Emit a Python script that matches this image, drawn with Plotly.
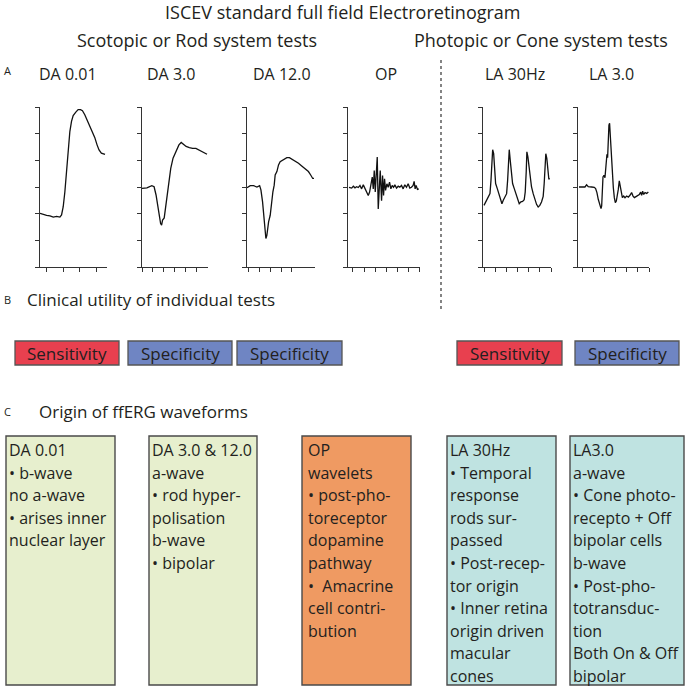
import plotly.graph_objects as go

W, H = 685, 686

# ---------------- data ----------------
panel_titles = ["DA 0.01", "DA 3.0", "DA 12.0", "OP", "LA 30Hz", "LA 3.0"]

da001_t = [-8, -4, 0, 4, 8, 12, 16, 18, 20, 22, 24, 26, 28, 30, 32, 35.2, 38, 40.8, 43.2,
           46, 48.8, 52, 55.2, 58, 60.8, 63.2, 66, 68.8, 70.4]
da001_v = [-99, -103, -106, -108, -113, -110, -113, -105, -74, -18, 70, 158, 208, 246, 268,
           281, 290, 290, 286, 271, 252, 233, 208, 186, 158, 139, 127, 123, 122]

da3_t = [0, 4.5, 9, 11.1, 12.9, 14.4, 15.9, 17.1, 18, 18.9, 20.4, 21.6, 23.4, 24.9, 26.4,
         28.5, 30.9, 33.9, 36, 38.1, 40.5, 43.5, 46.5, 49.5, 52.5, 55.5, 58.5, 59.7]
da3_v = [-5, -3, 5, 1, -30, -68, -112, -137, -143, -124, -116, -80, -30, 20, 70, 108, 133,
         158, 167, 160, 152, 148, 145, 145, 139, 130, 124, 123]

da12_t = [-1.5, 1.5, 4.6, 7.7, 10.2, 11.4, 12.9, 14.2, 15.1, 16, 16.9, 18.5, 20, 21.2, 22.5,
          23.7, 24.6, 26.2, 27.7, 29.2, 32.3, 35.4, 37.8, 40, 43.1, 46.2, 49.2, 52.3, 55.4,
          57.5, 59.4, 60.6]
da12_v = [-3, 5, 5, 0, 5, -11, -55, -118, -168, -193, -181, -131, -106, -55, -18, 7, 45, 58,
          83, 95, 102, 110, 110, 105, 98, 89, 79, 68, 58, 45, 32, 32]

op_t = [-3.6, -1.2, 0.3, 1.8, 3.3, 4.8, 6.3, 7.8, 9.3, 10.8, 12.3, 13.8, 15.0, 16.2, 17.4,
        18.3, 19.2, 20.1, 21.0, 21.9, 22.8, 23.7, 24.6, 25.8, 26.7, 27.6, 28.5, 29.4, 30.6,
        31.8, 33.0, 34.2, 35.4, 36.6, 37.8, 39.3, 40.8, 42.3, 43.8, 45.3, 46.8, 48.3, 49.8,
        51.3, 52.8, 54.3, 55.2, 56.1, 57.0, 58.2, 59.4]
op_v = [-1, -4, 3, -3, 1, -2, 6, -7, 8, -4, -19, -32, -19, 12, 37, -7, 62, -19, 81, 112,
        -82, 31, 62, -51, 43, -32, 31, -13, 12, -1, 18, -7, 6, -1, 8, -4, 3, -1, 6, -7, 8,
        -1, 12, -4, -1, 6, 21, -7, 6, -9, -7]

la30_t = [0, 2.4, 4.8, 7.7, 10.7, 12.5, 14.3, 15.5, 17.3, 19.0, 20.8, 23.8, 26.8, 29.8,
          32.1, 34.5, 37.5, 40.5, 42.3, 44.0, 45.2, 47.0, 48.8, 51.2, 54.2, 57.2, 60.1,
          63.1, 66.1, 69.1, 72.0, 73.8, 75.6, 76.8, 78.6, 80.4, 82.1, 85.1, 88.1, 91.1,
          94.1, 97.0, 100.0, 103.0, 106.0, 107.8, 109.5, 110.7, 112.5, 114.3, 116.1, 117.9]
la30_v = [-69, -60, -48, -40, -25, 25, 100, 140, 125, 63, 13, -6, -25, -50, -63, -50, -40,
          -25, 25, 100, 140, 100, 50, 13, -6, -28, -48, -63, -56, -54, -48, -19, 56, 132,
          113, 75, 38, 0, -25, -48, -65, -75, -69, -56, -35, 13, 75, 125, 107, 63, 31, 31]

la3_t = [-3.6, -1.2, 1.8, 3.3, 4.8, 7.9, 10.3, 11.5, 12.7, 13.9, 15.2, 16.4, 17.0, 17.6,
         18.2, 19.1, 20.0, 20.9, 21.8, 22.4, 23.0, 23.6, 24.2, 24.8, 25.8, 26.7, 27.6, 28.5,
         29.4, 30.3, 31.2, 32.1, 33.0, 33.9, 34.8, 35.8, 37.0, 38.2, 39.7, 41.2, 42.7, 44.2,
         45.5, 46.7, 48.2, 49.7, 51.2, 52.4, 53.3, 54.2, 55.2, 56.4, 57.9, 59.4]
la3_v = [0, -1, 0, 8, 1, 0, -1, -6, -21, -46, -71, -81, -71, -21, 38, 44, 35, 79, 123, 110,
         192, 232, 239, 192, 129, 66, -3, -40, -59, -53, -34, -9, 23, -3, -21, -40, -34, -40,
         -34, -38, -31, -21, -34, -40, -36, -31, -28, -19, -31, -16, -28, -21, -24, -19]

series_t = [da001_t, da3_t, da12_t, op_t, la30_t, la3_t]
series_v = [da001_v, da3_v, da12_v, op_v, la30_v, la3_v]

x_ranges = [[-8, 72.8], [0, 60.6], [-1.5, 61.5], [-4.5, 60.5], [-1.8, 120], [-4.5, 60]]
x_ticks = [[0, 20, 40, 60], [0, 10, 20, 30, 40, 50], [0, 10, 20, 30, 40],
           [0, 10, 20, 30, 40, 50, 60], [0, 20, 40, 60, 80, 100, 120],
           [0, 10, 20, 30, 40, 50, 60]]
y_range = [-300, 300]
y_ticks = [-300, -200, -100, 0, 100, 200, 300]

utility_labels = ["Sensitivity", "Specificity", "Specificity", "Sensitivity", "Specificity"]

origin_texts = [
    ["DA 0.01", "• b-wave", "no a-wave", "• arises inner", "nuclear layer"],
    ["DA 3.0 & 12.0", "a-wave", "• rod hyper-", "polisation", "b-wave", "• bipolar"],
    ["OP", "wavelets", "• post-pho-", "toreceptor", "dopamine", "pathway", "•  Amacrine",
     "cell contri-", "bution"],
    ["LA 30Hz", "• Temporal", "response", "rods sur-", "passed", "• Post-recep-",
     "tor origin", "• Inner retina", "origin driven", "macular", "cones"],
    ["LA3.0", "a-wave", "• Cone photo-", "recepto + Off", "bipolar cells", "b-wave",
     "• Post-pho-", "totransduc-", "tion", "Both On & Off", "bipolar"],
]

# ---------------- styling / layout ----------------
FONT = "Open Sans"
TXT = "#231f20"
AX = "#333333"

def px(x):
    return x / W

def py(y):
    return 1 - y / H

panel_x = [(40, 107), (142, 208), (247, 315), (348, 420), (483, 551), (578, 649)]
panel_y = (107, 267)
label_cx = [68, 171, 282, 386, 515, 611]

util_x = [(15, 119), (128, 232), (237, 342), (457, 562), (575, 679)]
util_colors = ["#e8404f", "#6f85c3", "#6f85c3", "#e8404f", "#6f85c3"]
util_y = (341, 365)

orig_x = [(6, 115), (149, 257), (302, 411), (447, 556), (570, 684)]
orig_pad = [1, 1, 4, 1, 1]
orig_colors = ["#e7efce", "#e7efce", "#ef9a62", "#bfe3e1", "#bfe3e1"]
orig_y = (436, 685)
line0, line_step = 450, 22.6

fig = go.Figure()
layout = dict(
    width=W, height=H, margin=dict(l=0, r=0, t=0, b=0),
    paper_bgcolor="white", plot_bgcolor="white", showlegend=False,
)

for i in range(6):
    sfx = "" if i == 0 else str(i + 1)
    fig.add_trace(go.Scatter(
        x=series_t[i], y=series_v[i], mode="lines",
        line=dict(color="#111111", width=1.3),
        xaxis="x" + sfx, yaxis="y" + sfx, hoverinfo="skip",
    ))
    common = dict(showline=True, linecolor=AX, linewidth=1, ticks="outside", ticklen=4,
                  tickwidth=1, tickcolor=AX, showticklabels=False, showgrid=False,
                  zeroline=False, fixedrange=True)
    layout["xaxis" + sfx] = dict(
        domain=[px(panel_x[i][0]), px(panel_x[i][1])], range=x_ranges[i],
        tickmode="array", tickvals=x_ticks[i], anchor="y" + sfx, **common)
    layout["yaxis" + sfx] = dict(
        domain=[py(panel_y[1]), py(panel_y[0])], range=y_range,
        tickmode="array", tickvals=y_ticks, anchor="x" + sfx, **common)

annotations = []
shapes = []

def ann(text, x, y, size, xanchor="center", color=TXT):
    annotations.append(dict(text=text, x=px(x), y=py(y), xref="paper", yref="paper",
                            xanchor=xanchor, yanchor="middle", showarrow=False,
                            font=dict(family=FONT, size=size, color=color)))

ann("ISCEV standard full field Electroretinogram", 343, 12, 18)
ann("Scotopic or Rod system tests", 197, 40, 18)
ann("Photopic or Cone system tests", 541, 40, 18)
ann("A", 7, 70, 11)
for t, cx in zip(panel_titles, label_cx):
    ann(t, cx, 74, 16)

ann("B", 8, 299, 11)
ann("Clinical utility of individual tests", 25, 299, 17, xanchor="left")
ann("C", 8, 411, 11)
ann("Origin of ffERG waveforms", 37, 411, 17, xanchor="left")

for (x0, x1), col, lab in zip(util_x, util_colors, utility_labels):
    shapes.append(dict(type="rect", xref="paper", yref="paper", x0=px(x0), x1=px(x1),
                       y0=py(util_y[1]), y1=py(util_y[0]), fillcolor=col,
                       line=dict(color="#555555", width=1.3), layer="below"))
    ann(lab, (x0 + x1) / 2, (util_y[0] + util_y[1]) / 2, 17)

for (x0, x1), col, pad, lines in zip(orig_x, orig_colors, orig_pad, origin_texts):
    shapes.append(dict(type="rect", xref="paper", yref="paper", x0=px(x0), x1=px(x1),
                       y0=py(orig_y[1]), y1=py(orig_y[0]), fillcolor=col,
                       line=dict(color="#4a4a4a", width=1.4), layer="below"))
    for k, line in enumerate(lines):
        ann(line, x0 + pad, line0 + k * line_step, 16, xanchor="left")

shapes.append(dict(type="line", xref="paper", yref="paper", x0=px(441), x1=px(441),
                   y0=py(60), y1=py(312), line=dict(color="#333333", width=1.2, dash="3px,3px")))

layout["annotations"] = annotations
layout["shapes"] = shapes
fig.update_layout(**layout)
fig.write_html("out.html", config={"displayModeBar": False},
               post_script="document.body.style.margin='0';document.body.style.overflow='hidden';")
